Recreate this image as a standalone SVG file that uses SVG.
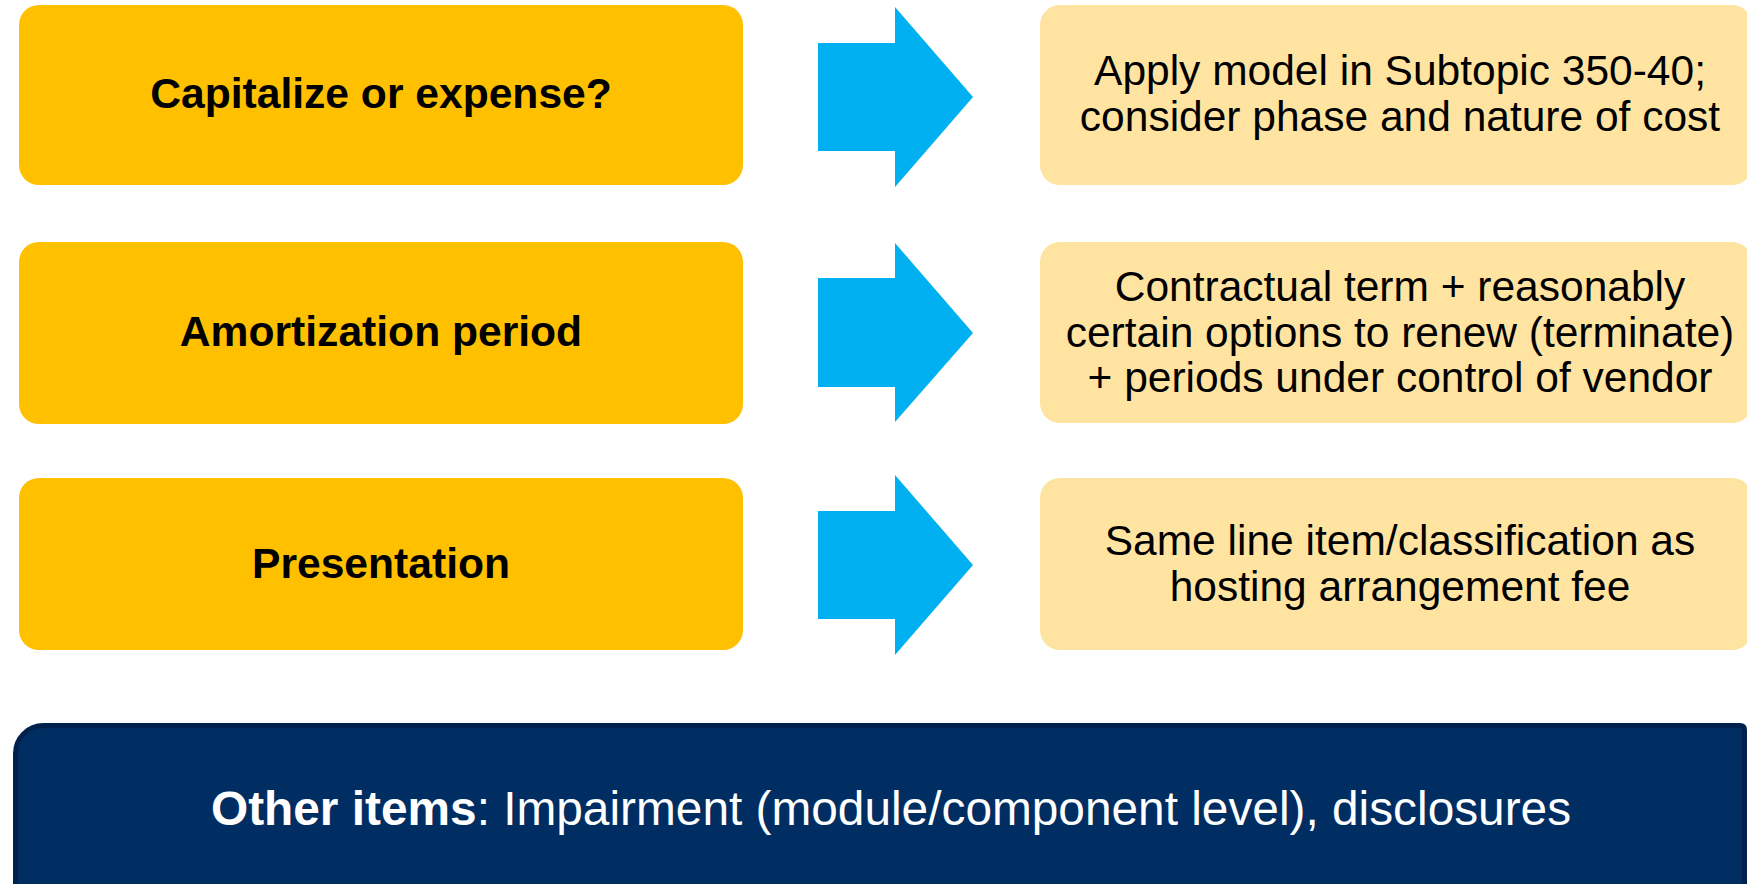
<svg xmlns="http://www.w3.org/2000/svg" width="1747" height="884" viewBox="0 0 1747 884">
  <style>
    .topic { fill: #FFC000; }
    .answer { fill: #FFE3A1; }
    .arrow { fill: #00B0F0; }
    .lbl { font-family: "Liberation Sans", Arial, sans-serif; text-anchor: middle; fill: #000; }
    .bold { font-weight: bold; font-size: 42.6px; }
    .reg { font-size: 42.5px; }
    .note { font-family: "Liberation Sans", Arial, sans-serif; font-size: 47.8px; fill: #FFFFFF; }
  </style>
  <rect width="1747" height="884" fill="#FFFFFF"/>

  <!-- Row 1 -->
  <g id="capitalize">
    <rect class="topic" x="19" y="5" width="724" height="180" rx="20"/>
    <text class="lbl bold" x="381" y="108">Capitalize or expense?</text>
  </g>
  <g id="capitalize-answer">
    <rect class="answer" x="1040" y="5" width="712" height="180" rx="20"/>
    <text class="lbl reg" x="1400" y="85">Apply model in Subtopic 350-40;</text>
    <text class="lbl reg" x="1400" y="131">consider phase and nature of cost</text>
  </g>

  <!-- Row 2 -->
  <g id="amortization">
    <rect class="topic" x="19" y="242" width="724" height="182" rx="20"/>
    <text class="lbl bold" x="381" y="346">Amortization period</text>
  </g>
  <g id="amortization-answer">
    <rect class="answer" x="1040" y="242" width="712" height="181" rx="20"/>
    <text class="lbl reg" x="1400" y="301">Contractual term + reasonably</text>
    <text class="lbl reg" x="1400" y="347">certain options to renew (terminate)</text>
    <text class="lbl reg" x="1400" y="392">+ periods under control of vendor</text>
  </g>

  <!-- Row 3 -->
  <g id="presentation">
    <rect class="topic" x="19" y="478" width="724" height="172" rx="20"/>
    <text class="lbl bold" x="381" y="578">Presentation</text>
  </g>
  <g id="presentation-answer">
    <rect class="answer" x="1040" y="478" width="712" height="172" rx="20"/>
    <text class="lbl reg" x="1400" y="555">Same line item/classification as</text>
    <text class="lbl reg" x="1400" y="601">hosting arrangement fee</text>
  </g>

  <!-- Block arrows linking each topic to its answer -->
  <g id="connectors">
    <polygon class="arrow" points="818,43 895,43 895,7 973,97 895,187 895,151 818,151"/>
    <polygon class="arrow" points="818,278 895,278 895,243 973,333 895,422 895,387 818,387"/>
    <polygon class="arrow" points="818,511 895,511 895,475 973,565 895,655 895,619 818,619"/>
  </g>

  <!-- Footer banner -->
  <g id="other-items">
    <path d="M15.5,900 V753.5 A28,28 0 0 1 43.5,725.5 H1740 Q1744.5,725.5 1744.5,730 V900 Z" fill="#002E63" stroke="#00214D" stroke-width="5"/>
    <text class="note" x="211" y="825"><tspan font-weight="bold">Other items</tspan>: Impairment (module/component level), disclosures</text>
  </g>
</svg>
